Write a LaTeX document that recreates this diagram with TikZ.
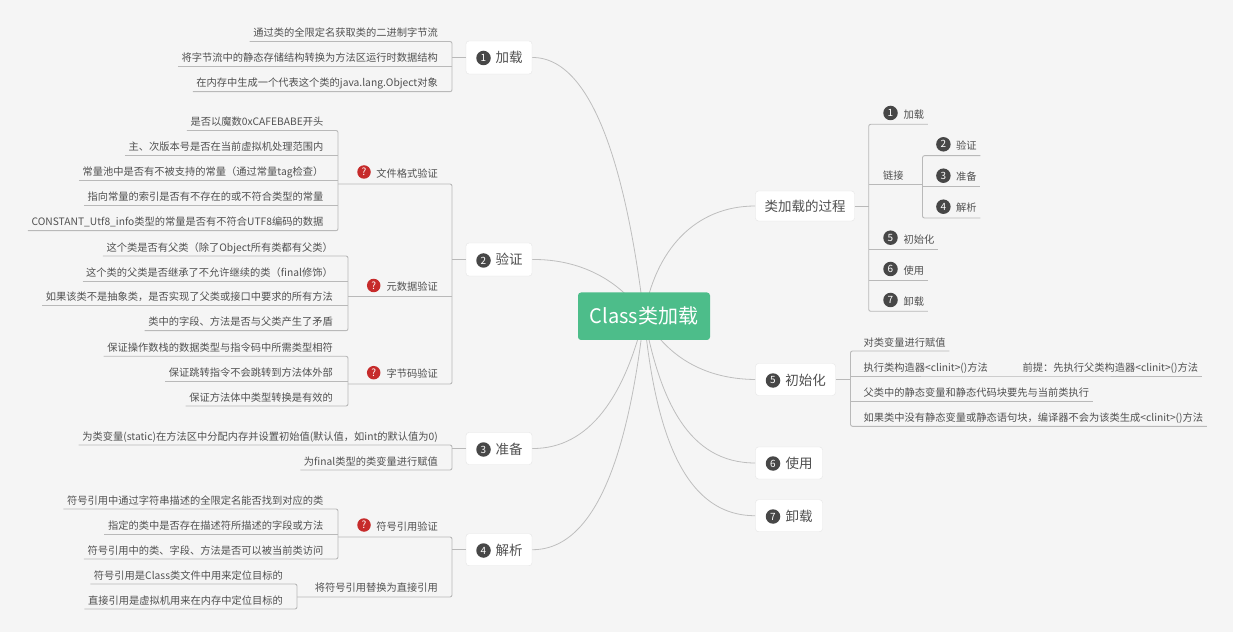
\documentclass[tikz,border=0pt]{standalone}
\usepackage{fontspec}
\setmainfont{Noto Sans CJK SC}
\usetikzlibrary{calc}
\definecolor{bgc}{HTML}{F5F5F5}
\definecolor{lineg}{HTML}{B9B9B9}
\definecolor{curveg}{HTML}{BEBEBE}
\definecolor{txt}{HTML}{505050}
\definecolor{dark}{HTML}{474747}
\definecolor{quest}{HTML}{C62B2B}
\definecolor{rootc}{HTML}{4DBD8A}
\pgfdeclarelayer{back}
\pgfdeclarelayer{curves}
\pgfsetlayers{back,curves,main}
\tikzset{
  leaf/.style={inner xsep=3.5pt,inner ysep=2pt,text height=8pt,text depth=2.5pt,text=txt,font=\fontsize{10.25}{12}\selectfont},
  leafr/.style={leaf,anchor=south east},
  leafl/.style={leaf,anchor=south west},
  midr/.style={leafr,inner ysep=3.5pt},
  midl/.style={leafl,inner ysep=3.5pt},
  topbox/.style={draw=black!10,fill=white,rounded corners=3pt,text=txt,inner sep=0pt,text height=11pt,text depth=0pt,font=\fontsize{13.5}{16}\selectfont},
  badge/.style={circle,fill=dark,text=white,inner sep=0pt,minimum size=14.5pt,font=\fontsize{10}{11}\selectfont},
  quesn/.style={circle,fill=quest,text=white,inner sep=0pt,minimum size=13.5pt,font=\fontsize{10}{11}\selectfont},
  conn/.style={draw=lineg,line width=0.9pt,rounded corners=2pt},
  curve/.style={draw=curveg,line width=0.8pt}
}
\begin{document}
\begin{tikzpicture}[x=1pt,y=-1pt]
\useasboundingbox (0,0) rectangle (1240,636);
\begin{pgfonlayer}{back}
\fill[white] (0,0) rectangle (1240,636);
\fill[bgc] (0,0) rectangle (1233,632);
\end{pgfonlayer}
% root
\node[fill=rootc,rounded corners=3pt,text=white,minimum width=132pt,minimum height=47.5pt,inner sep=0pt,font=\fontsize{20}{26}\selectfont] (root) at (644,316.25) {Class类加载};
% trunk positions
\coordinate (tL) at (452,0);
\coordinate (tF) at (338,0);
\coordinate (tM) at (348,0);
\coordinate (tR) at (297,0);
\coordinate (tP) at (868.7,0);
\coordinate (tS) at (922.5,0);
\coordinate (tI) at (850.5,0);
% main boxes
\node[topbox,minimum width=66pt,minimum height=33pt] (b1) at (499,57.5) {\hspace*{20pt}加载};
\node[topbox,minimum width=66pt,minimum height=33pt] (b2) at (499,259.5) {\hspace*{20pt}验证};
\node[topbox,minimum width=66pt,minimum height=32pt] (b3) at (499,448.5) {\hspace*{20pt}准备};
\node[topbox,minimum width=66pt,minimum height=32pt] (b4) at (499,549.7) {\hspace*{20pt}解析};
\node[topbox,minimum width=99pt,minimum height=30pt] (bp) at (805,206) {类加载的过程};
\node[topbox,minimum width=80pt,minimum height=32pt] (b5) at (795.5,379.5) {\hspace*{20pt}初始化};
\node[topbox,minimum width=67pt,minimum height=32pt] (b6) at (789,463) {\hspace*{20pt}使用};
\node[topbox,minimum width=67pt,minimum height=32pt] (b7) at (789,515.7) {\hspace*{20pt}卸载};
\node[badge] (bn1) at (483.5,58) {1};
\node[badge] (bn2) at (483.5,260.5) {2};
\node[badge] (bn3) at (483.5,449.5) {3};
\node[badge] (bn4) at (483.5,550.5) {4};
\node[badge] (bn5) at (773,380.5) {5};
\node[badge] (bn6) at (773,463.5) {6};
\node[badge] (bn7) at (773,516.5) {7};
% curves
\begin{pgfonlayer}{curves}
\draw[curve] (b1.east) .. controls (600,57) and (630,200) .. (root.center);
\draw[curve] (b2.east) .. controls (580,259) and (620,280) .. (root.center);
\draw[curve] (b3.east) .. controls (590,449) and (625,395) .. (root.center);
\draw[curve] (b4.east) .. controls (600,550) and (630,440) .. (root.center);
\draw[curve] (bp.west) .. controls (695,206) and (655,250) .. (root.center);
\draw[curve] (b5.west) .. controls (697,379) and (663,350) .. (root.center);
\draw[curve] (b6.west) .. controls (688,463) and (660,400) .. (root.center);
\draw[curve] (b7.west) .. controls (683,516) and (655,430) .. (root.center);
\end{pgfonlayer}
% 1 加载
\node[leafr] (a1) at (441.5,41.5) {通过类的全限定名获取类的二进制字节流};
\node[leafr] (a2) at (441.5,66.7) {将字节流中的静态存储结构转换为方法区运行时数据结构};
\node[leafr] (a3) at (441.5,91.7) {在内存中生成一个代表这个类的java.lang.Object对象};
\draw[conn] (a1.south west) -- (a1.south -| tL) -- (a3.south -| tL) -- (a3.south west);
\draw[conn] (a2.south west) -- (a2.south -| tL);
\draw[conn] (b1.west) -- (b1.west -| tL);
% 2 验证
\node[midr] (f) at (441.5,184) {文件格式验证};
\node[quesn] (fq) at (364,172) {?};
\node[midr] (m) at (441.5,296.5) {元数据验证};
\node[quesn] (mq) at (373.7,285.5) {?};
\node[midr] (z) at (441.5,384) {字节码验证};
\node[quesn] (zq) at (373.7,372.7) {?};
\draw[conn] (f.south -| tF) -- (f.south -| tL) -- (z.south -| tL) -- (z.south -| tM);
\draw[conn] (m.south -| tM) -- (m.south -| tL);
\draw[conn] (b2.west) -- (b2.west -| tL);
\node[leafr] (f1) at (327,130.5) {是否以魔数0xCAFEBABE开头};
\node[leafr] (f2) at (327,155.7) {主、次版本号是否在当前虚拟机处理范围内};
\node[leafr] (f3) at (327,180.7) {常量池中是否有不被支持的常量（通过常量tag检查）};
\node[leafr] (f4) at (327,205.7) {指向常量的索引是否有不存在的或不符合类型的常量};
\node[leafr] (f5) at (327,230.7) {CONSTANT\_Utf8\_info类型的常量是否有不符合UTF8编码的数据};
\draw[conn] (f1.south west) -- (f1.south -| tF) -- (f5.south -| tF) -- (f5.south west);
\draw[conn] (f2.south west) -- (f2.south -| tF);
\draw[conn] (f3.south west) -- (f3.south -| tF);
\draw[conn] (f4.south west) -- (f4.south -| tF);
\node[leafr] (m1) at (336.5,256) {这个类是否有父类（除了Object所有类都有父类）};
\node[leafr] (m2) at (336.5,281) {这个类的父类是否继承了不允许继续的类（final修饰）};
\node[leafr] (m3) at (336.5,305.7) {如果该类不是抽象类，是否实现了父类或接口中要求的所有方法};
\node[leafr] (m4) at (336.5,330.7) {类中的字段、方法是否与父类产生了矛盾};
\draw[conn] (m1.south west) -- (m1.south -| tM) -- (m4.south -| tM) -- (m4.south west);
\draw[conn] (m2.south west) -- (m2.south -| tM);
\draw[conn] (m3.south west) -- (m3.south -| tM);
\node[leafr] (z1) at (336.5,356.3) {保证操作数栈的数据类型与指令码中所需类型相符};
\node[leafr] (z2) at (336.5,381.3) {保证跳转指令不会跳转到方法体外部};
\node[leafr] (z3) at (336.5,406) {保证方法体中类型转换是有效的};
\draw[conn] (z1.south west) -- (z1.south -| tM) -- (z3.south -| tM) -- (z3.south west);
\draw[conn] (z2.south west) -- (z2.south -| tM);
% 3 准备
\node[leafr] (p1) at (441.5,445) {为类变量(static)在方法区中分配内存并设置初始值(默认值，如int的默认值为0)};
\node[leafr] (p2) at (441.5,470) {为final类型的类变量进行赋值};
\draw[conn] (p1.south west) -- (p1.south -| tL) -- (p2.south -| tL) -- (p2.south west);
\draw[conn] (b3.west) -- (b3.west -| tL);
% 4 解析
\node[midr] (s) at (441.5,537) {符号引用验证};
\node[quesn] (sq) at (364,525) {?};
\node[leafr,inner ysep=3pt] (d) at (441.5,597) {将符号引用替换为直接引用};
\draw[conn] (s.south -| tF) -- (s.south -| tL) -- (d.south -| tL) -- (d.south -| tR);
\draw[conn] (b4.west) -- (b4.west -| tL);
\node[leafr] (s1) at (327,509) {符号引用中通过字符串描述的全限定名能否找到对应的类};
\node[leafr] (s2) at (327,534) {指定的类中是否存在描述符所描述的字段或方法};
\node[leafr] (s3) at (327,559) {符号引用中的类、字段、方法是否可以被当前类访问};
\draw[conn] (s1.south west) -- (s1.south -| tF) -- (s3.south -| tF) -- (s3.south west);
\draw[conn] (s2.south west) -- (s2.south -| tF);
\node[leafr] (d1) at (286.5,584) {符号引用是Class类文件中用来定位目标的};
\node[leafr] (d2) at (286.5,609) {直接引用是虚拟机用来在内存中定位目标的};
\draw[conn] (d1.south west) -- (d1.south -| tR) -- (d2.south -| tR) -- (d2.south west);
% process
\node[midl] (r1) at (900,124.3) {加载};
\node[badge] (rn1) at (890.5,113) {1};
\node[leafl] (rl) at (879.5,184) {链接};
\node[midl] (r5) at (900,249.3) {初始化};
\node[badge] (rn5) at (890.5,237.7) {5};
\node[midl] (r6) at (900,280.3) {使用};
\node[badge] (rn6) at (890.5,269) {6};
\node[midl] (r7) at (900,311.3) {卸载};
\node[badge] (rn7) at (890.5,300) {7};
\draw[conn] (r1.south east) -- (r1.south -| tP) -- (r7.south -| tP) -- (r7.south east);
\draw[conn] (rl.south -| tP) -- (rl.south -| tS);
\draw[conn] (r5.south -| tP) -- (r5.south east);
\draw[conn] (r6.south -| tP) -- (r6.south east);
\draw[conn] (bp.east) -- (bp.east -| tP);
\node[midl] (r2) at (952.5,155.7) {验证};
\node[badge] (rn2) at (943.4,144.3) {2};
\node[midl] (r3) at (952.5,186.7) {准备};
\node[badge] (rn3) at (943.4,175.7) {3};
\node[midl] (r4) at (952.5,218) {解析};
\node[badge] (rn4) at (943.4,206.7) {4};
\draw[conn] (r2.south east) -- (r2.south -| tS) -- (r4.south -| tS) -- (r4.south east);
\draw[conn] (r3.south -| tS) -- (r3.south east);
% 5 初始化
\node[leafl] (i1) at (860,351) {对类变量进行赋值};
\node[leafl] (i2) at (860,376) {执行类构造器<clinit>()方法};
\node[leafl] (i2a) at (1019,376) {前提：先执行父类构造器<clinit>()方法};
\node[leafl] (i3) at (860,401) {父类中的静态变量和静态代码块要先与当前类执行};
\node[leafl] (i4) at (860,426.3) {如果类中没有静态变量或静态语句块，编译器不会为该类生成<clinit>()方法};
\draw[conn] (i1.south east) -- (i1.south -| tI) -- (i4.south -| tI) -- (i4.south east);
\draw[conn] (i2.south -| tI) -- (i2.south east) -- (i2a.south west) -- (i2a.south east);
\draw[conn] (i3.south -| tI) -- (i3.south east);
\draw[conn] (b5.east) -- (b5.east -| tI);
\end{tikzpicture}
\end{document}
